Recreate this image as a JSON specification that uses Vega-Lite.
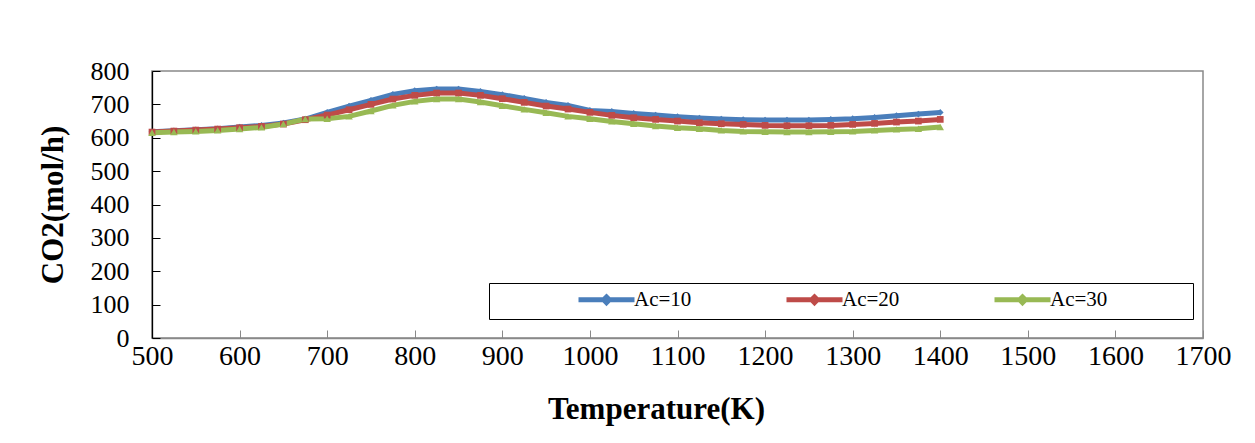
{
  "$schema": "https://vega.github.io/schema/vega-lite/v6.json",
  "width": 1051,
  "height": 267,
  "autosize": {"type": "none"},
  "padding": {"left": 152, "top": 71, "right": 52, "bottom": 105},
  "background": "white",
  "config": {
    "font": "Liberation Serif",
    "view": {"stroke": "#898989", "strokeWidth": 1.5},
    "axis": {"grid": false, "labelColor": "black", "titleColor": "black", "labelFlush": false, "labelOverlap": false}
  },
  "data": {
    "values": [
      {"T": 500, "v": 618, "s": "Ac=10"}, {"T": 525, "v": 621, "s": "Ac=10"}, {"T": 550, "v": 624, "s": "Ac=10"}, {"T": 575, "v": 627, "s": "Ac=10"},
      {"T": 600, "v": 632, "s": "Ac=10"}, {"T": 625, "v": 637, "s": "Ac=10"}, {"T": 650, "v": 644, "s": "Ac=10"}, {"T": 675, "v": 656, "s": "Ac=10"},
      {"T": 700, "v": 676, "s": "Ac=10"}, {"T": 725, "v": 695, "s": "Ac=10"}, {"T": 750, "v": 712, "s": "Ac=10"}, {"T": 775, "v": 730, "s": "Ac=10"},
      {"T": 800, "v": 741, "s": "Ac=10"}, {"T": 825, "v": 746, "s": "Ac=10"}, {"T": 850, "v": 746, "s": "Ac=10"}, {"T": 875, "v": 739, "s": "Ac=10"},
      {"T": 900, "v": 729, "s": "Ac=10"}, {"T": 925, "v": 718, "s": "Ac=10"}, {"T": 950, "v": 706, "s": "Ac=10"}, {"T": 975, "v": 697, "s": "Ac=10"},
      {"T": 1000, "v": 682, "s": "Ac=10"}, {"T": 1025, "v": 679, "s": "Ac=10"}, {"T": 1050, "v": 673, "s": "Ac=10"}, {"T": 1075, "v": 668, "s": "Ac=10"},
      {"T": 1100, "v": 663, "s": "Ac=10"}, {"T": 1125, "v": 659, "s": "Ac=10"}, {"T": 1150, "v": 656, "s": "Ac=10"}, {"T": 1175, "v": 654, "s": "Ac=10"},
      {"T": 1200, "v": 653, "s": "Ac=10"}, {"T": 1225, "v": 653, "s": "Ac=10"}, {"T": 1250, "v": 653, "s": "Ac=10"}, {"T": 1275, "v": 655, "s": "Ac=10"},
      {"T": 1300, "v": 657, "s": "Ac=10"}, {"T": 1325, "v": 661, "s": "Ac=10"}, {"T": 1350, "v": 666, "s": "Ac=10"}, {"T": 1375, "v": 671, "s": "Ac=10"},
      {"T": 1400, "v": 676, "s": "Ac=10"},
      {"T": 500, "v": 617, "s": "Ac=20"}, {"T": 525, "v": 620, "s": "Ac=20"}, {"T": 550, "v": 623, "s": "Ac=20"}, {"T": 575, "v": 626, "s": "Ac=20"},
      {"T": 600, "v": 630, "s": "Ac=20"}, {"T": 625, "v": 634, "s": "Ac=20"}, {"T": 650, "v": 641, "s": "Ac=20"}, {"T": 675, "v": 654, "s": "Ac=20"},
      {"T": 700, "v": 668, "s": "Ac=20"}, {"T": 725, "v": 684, "s": "Ac=20"}, {"T": 750, "v": 700, "s": "Ac=20"}, {"T": 775, "v": 716, "s": "Ac=20"},
      {"T": 800, "v": 727, "s": "Ac=20"}, {"T": 825, "v": 734, "s": "Ac=20"}, {"T": 850, "v": 734, "s": "Ac=20"}, {"T": 875, "v": 727, "s": "Ac=20"},
      {"T": 900, "v": 717, "s": "Ac=20"}, {"T": 925, "v": 706, "s": "Ac=20"}, {"T": 950, "v": 695, "s": "Ac=20"}, {"T": 975, "v": 686, "s": "Ac=20"},
      {"T": 1000, "v": 676, "s": "Ac=20"}, {"T": 1025, "v": 667, "s": "Ac=20"}, {"T": 1050, "v": 660, "s": "Ac=20"}, {"T": 1075, "v": 655, "s": "Ac=20"},
      {"T": 1100, "v": 650, "s": "Ac=20"}, {"T": 1125, "v": 645, "s": "Ac=20"}, {"T": 1150, "v": 642, "s": "Ac=20"}, {"T": 1175, "v": 640, "s": "Ac=20"},
      {"T": 1200, "v": 637, "s": "Ac=20"}, {"T": 1225, "v": 636, "s": "Ac=20"}, {"T": 1250, "v": 636, "s": "Ac=20"}, {"T": 1275, "v": 637, "s": "Ac=20"},
      {"T": 1300, "v": 640, "s": "Ac=20"}, {"T": 1325, "v": 643, "s": "Ac=20"}, {"T": 1350, "v": 647, "s": "Ac=20"}, {"T": 1375, "v": 650, "s": "Ac=20"},
      {"T": 1400, "v": 655, "s": "Ac=20"},
      {"T": 500, "v": 615, "s": "Ac=30"}, {"T": 525, "v": 617, "s": "Ac=30"}, {"T": 550, "v": 619, "s": "Ac=30"}, {"T": 575, "v": 622, "s": "Ac=30"},
      {"T": 600, "v": 626, "s": "Ac=30"}, {"T": 625, "v": 631, "s": "Ac=30"}, {"T": 650, "v": 641, "s": "Ac=30"}, {"T": 675, "v": 656, "s": "Ac=30"},
      {"T": 700, "v": 657, "s": "Ac=30"}, {"T": 725, "v": 664, "s": "Ac=30"}, {"T": 750, "v": 680, "s": "Ac=30"}, {"T": 775, "v": 697, "s": "Ac=30"},
      {"T": 800, "v": 709, "s": "Ac=30"}, {"T": 825, "v": 716, "s": "Ac=30"}, {"T": 850, "v": 716, "s": "Ac=30"}, {"T": 875, "v": 707, "s": "Ac=30"},
      {"T": 900, "v": 696, "s": "Ac=30"}, {"T": 925, "v": 685, "s": "Ac=30"}, {"T": 950, "v": 675, "s": "Ac=30"}, {"T": 975, "v": 664, "s": "Ac=30"},
      {"T": 1000, "v": 657, "s": "Ac=30"}, {"T": 1025, "v": 649, "s": "Ac=30"}, {"T": 1050, "v": 642, "s": "Ac=30"}, {"T": 1075, "v": 635, "s": "Ac=30"},
      {"T": 1100, "v": 630, "s": "Ac=30"}, {"T": 1125, "v": 627, "s": "Ac=30"}, {"T": 1150, "v": 622, "s": "Ac=30"}, {"T": 1175, "v": 619, "s": "Ac=30"},
      {"T": 1200, "v": 618, "s": "Ac=30"}, {"T": 1225, "v": 617, "s": "Ac=30"}, {"T": 1250, "v": 617, "s": "Ac=30"}, {"T": 1275, "v": 618, "s": "Ac=30"},
      {"T": 1300, "v": 619, "s": "Ac=30"}, {"T": 1325, "v": 622, "s": "Ac=30"}, {"T": 1350, "v": 625, "s": "Ac=30"}, {"T": 1375, "v": 627, "s": "Ac=30"},
      {"T": 1400, "v": 632, "s": "Ac=30"}
    ]
  },
  "encoding": {
    "x": {
      "field": "T", "type": "quantitative",
      "scale": {"domain": [500, 1700], "nice": false, "zero": false},
      "axis": {
        "values": [500, 600, 700, 800, 900, 1000, 1100, 1200, 1300, 1400, 1500, 1600, 1700], "format": "d",
        "title": "Temperature(K)", "titleFontSize": 31, "titleFontWeight": "bold", "titlePadding": 24, "titleX": 504,
        "labelFontSize": 28, "labelPadding": 12, "tickSize": -8, "tickColor": "#898989", "domainColor": "#898989", "domainWidth": 1.5
      }
    },
    "y": {
      "field": "v", "type": "quantitative",
      "scale": {"domain": [0, 800], "nice": false},
      "axis": {
        "values": [0, 100, 200, 300, 400, 500, 600, 700, 800], "format": "d",
        "title": "CO2(mol/h)", "titleFontSize": 31, "titleFontWeight": "bold", "titlePadding": 21,
        "labelFontSize": 26, "labelPadding": 31, "tickSize": -8, "tickColor": "black", "domainColor": "black", "domainWidth": 1.3
      }
    }
  },
  "layer": [
    {
      "mark": {"type": "line", "strokeWidth": 5},
      "encoding": {
        "color": {
          "field": "s", "type": "nominal",
          "scale": {"domain": ["Ac=10", "Ac=20", "Ac=30"], "range": ["#4A7EBB", "#BE4B48", "#98B954"]},
          "legend": {
            "orient": "none", "legendX": 337, "legendY": 212, "direction": "horizontal", "columns": 3,
            "title": " ", "titleOrient": "left", "titleFontSize": 1, "titlePadding": 101,
            "symbolType": "M-4,0H4M-0.4,0L0,-0.4L0.4,0L0,0.4Z", "symbolSize": 196, "symbolStrokeWidth": 5,
            "labelFontSize": 21, "labelColor": "black", "labelOffset": 17, "columnPadding": 84,
            "padding": 6, "strokeColor": "black", "fillColor": "white",
            "labelExpr": "datum.label == 'Ac=30' ? datum.label + '\u00a0\u00a0\u00a0\u00a0\u00a0\u00a0\u00a0\u00a0\u00a0\u00a0\u00a0\u00a0\u00a0\u00a0\u00a0\u200b' : datum.label"
          }
        }
      }
    },
    {
      "transform": [{"filter": "datum.s == 'Ac=10'"}],
      "mark": {"type": "point", "filled": true, "size": 45, "opacity": 1, "shape": "diamond", "color": "#4A7EBB"}
    },
    {
      "transform": [{"filter": "datum.s == 'Ac=20'"}],
      "mark": {"type": "point", "filled": true, "size": 45, "opacity": 1, "shape": "square", "color": "#BE4B48"}
    },
    {
      "transform": [{"filter": "datum.s == 'Ac=30'"}],
      "mark": {"type": "point", "filled": true, "size": 55, "opacity": 1, "shape": "triangle-up", "color": "#98B954"}
    }
  ]
}
